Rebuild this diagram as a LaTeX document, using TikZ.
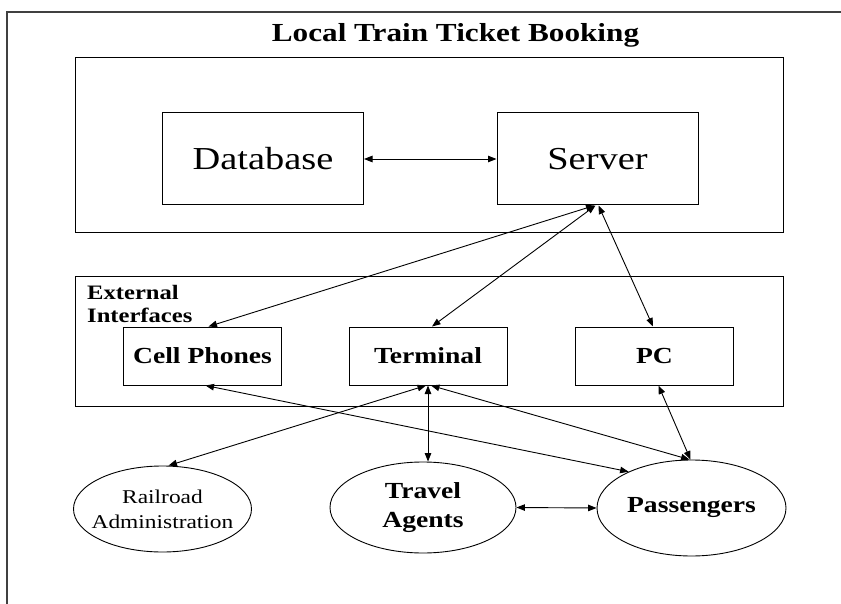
\documentclass[tikz,border=0pt]{standalone}
\usepackage{fontspec}
\setmainfont{Liberation Serif}[FakeStretch=1.2]
\usetikzlibrary{arrows.meta,shapes.geometric,calc}

\tikzset{
  >={Triangle[length=8.5pt,width=6.5pt]},
  box/.style={draw, rectangle, line width=1pt, inner sep=0pt},
  area/.style={box, minimum width=708pt},
  bigbox/.style={box, minimum width=201pt, minimum height=92pt,
    font=\fontsize{32}{36}\selectfont},
  smallbox/.style={box, minimum width=158pt, minimum height=58pt,
    font=\fontsize{23}{26}\selectfont\bfseries},
  actor/.style={draw, ellipse, line width=0.9pt, inner sep=0pt},
  actortext/.style={align=center, inner sep=0pt},
  link/.style={<->, line width=0.9pt},
}

\begin{document}
\begin{tikzpicture}[x=1pt, y=-1pt]
  \useasboundingbox (0,0) rectangle (841,604);
  \fill[white] (0,0) rectangle (841,604);

  % outer page frame (only its top and left edges fall inside the page)
  \begin{scope}
    \clip (0,0) rectangle (841,604);
    \draw[line width=1.2pt, black!75] (7,620) -- (7,12) -- (860,12);
  \end{scope}

  % title
  \node[anchor=base, inner sep=0pt, font=\fontsize{26}{30}\selectfont\bfseries]
    (title) at (455.5,42) {Local Train Ticket Booking};

  % system area with database and server
  \node[area, minimum height=175pt] (system) at (429,145.5) {};
  \node[bigbox] (db) at (263,159) {Database};
  \node[bigbox] (server) at (597.5,159) {Server};

  % external interfaces area
  \node[area, minimum height=129pt] (ext) at (429,341.5) {};
  \node[anchor=north west, inner sep=0pt, align=left,
        font=\fontsize{20.5}{23}\selectfont\bfseries]
    (extlabel) at (87,285) {External\\Interfaces};
  \node[smallbox] (cell) at (202.5,356) {Cell Phones};
  \node[smallbox] (term) at (428,356) {Terminal};
  \node[smallbox] (pc) at (654.5,356) {PC};

  % actors: fixed-size ellipses with their names centred inside
  \node[actor, minimum width=178pt, minimum height=86pt,
        label={[actortext, font=\fontsize{19.5}{25}\selectfont]center:Railroad\\Administration}]
    (rail) at (162.5,509) {};
  \node[actor, minimum width=186pt, minimum height=91pt,
        label={[actortext, font=\fontsize{23}{29}\selectfont\bfseries]center:Travel\\Agents}]
    (travel) at (423,507.5) {};
  \node[actor, minimum width=189pt, minimum height=96pt,
        label={[actortext, font=\fontsize{23}{26}\selectfont\bfseries]center:Passengers}]
    (pass) at (691.5,508) {};

  % connections
  \draw[link] (db.east) -- (server.west);
  \draw[link] ($(server.south)+(-3,0)$) -- ($(cell.north)+(6,0)$);
  \draw[link] ($(server.south)+(-2,0)$) -- ($(term.north)+(4,0)$);
  \draw[link] ($(server.south)+(1,0)$) -- ($(pc.north)+(-1.5,0)$);
  \draw[link] ($(term.south)+(-2,0)$) -- ($(rail.north)+(6,0)$);
  \draw[link] (term.south) -- (term.south |- travel.north);
  \draw[link] ($(term.south)+(3,0)$) -- ($(pass.north)+(-2,0)$);
  \draw[link] ($(cell.south)+(3,0)$) -- (pass.150);
  \draw[link] ($(pc.south)+(4,0)$) -- ($(pass.north)+(-1,0)$);
  \draw[link] (travel.east) -- (pass.west);
\end{tikzpicture}
\end{document}
